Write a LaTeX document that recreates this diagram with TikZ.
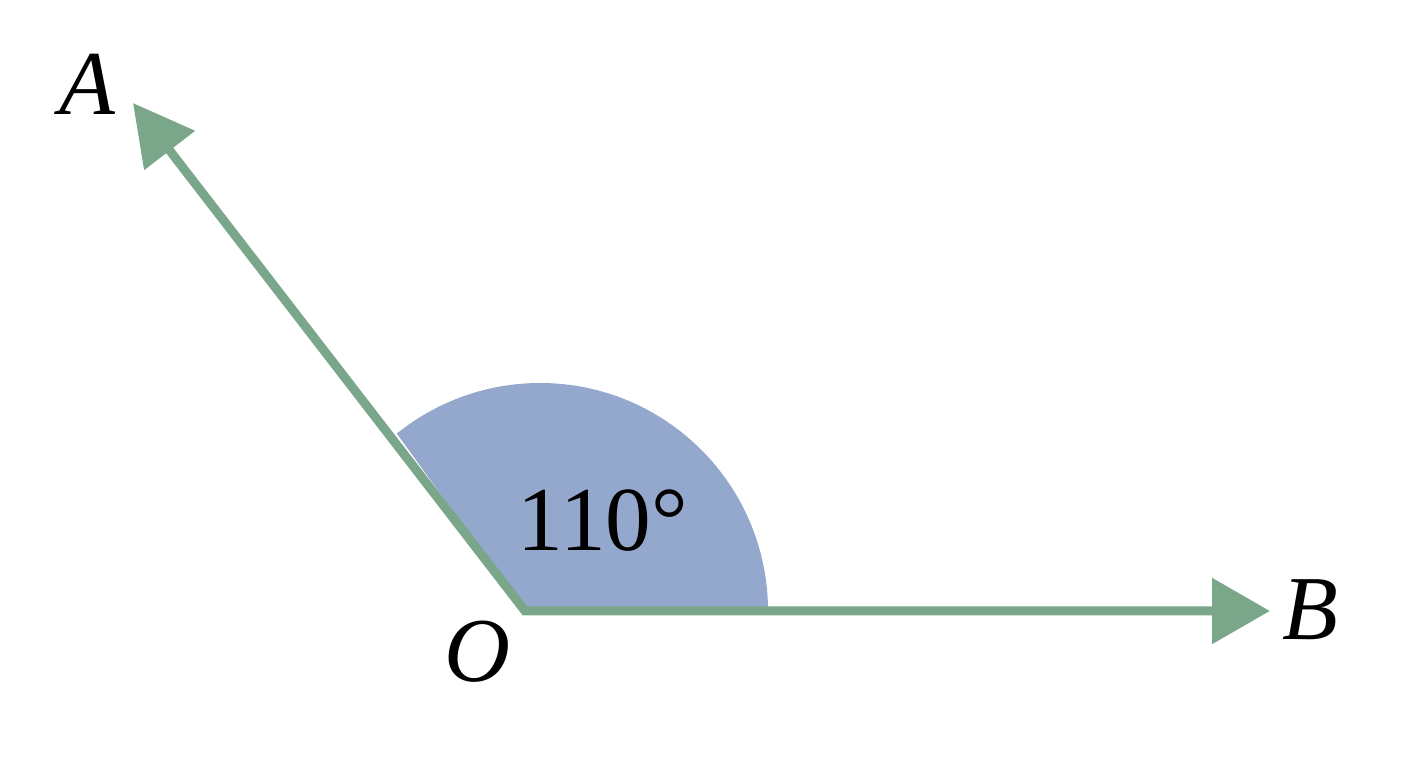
\documentclass[tikz,border=0pt]{standalone}
\usepackage{fontspec}
\setmainfont{Liberation Serif}
\usetikzlibrary{arrows.meta}
\definecolor{raygreen}{HTML}{7AA68A}
\definecolor{sectorblue}{HTML}{94A7CC}
\begin{document}
\begin{tikzpicture}[inner sep=0pt, font=\fontsize{26}{30}\selectfont]
		\useasboundingbox (0, 0) rectangle (14.08, 7.68);
		\coordinate (O) at (5.25, 1.57);
		\coordinate (tipA) at (1.33, 6.65);
		\coordinate (tipB) at (12.70, 1.57);
		\coordinate (centre) at (5.40, 1.57);
		\fill[sectorblue] (O) -- ([xshift=2.28cm]centre) arc[start angle=0, end angle=128.9, radius=2.28] -- cycle;
		\draw[raygreen, line width=0.09cm, miter limit=10, {Triangle[length=0.6cm, width=0.62cm]}-{Triangle[length=0.58cm, width=0.64cm]}] (tipA) -- (O) -- (tipB);
		\node (A) at (0.88, 6.84) {\emph{A}};
		\node (B) at (13.10, 1.58) {\emph{B}};
		\node (labelO) at (4.77, 1.16) {\emph{O}};
		\node (angle) at (6.03, 2.47) {110°};
	\end{tikzpicture}
\end{document}
